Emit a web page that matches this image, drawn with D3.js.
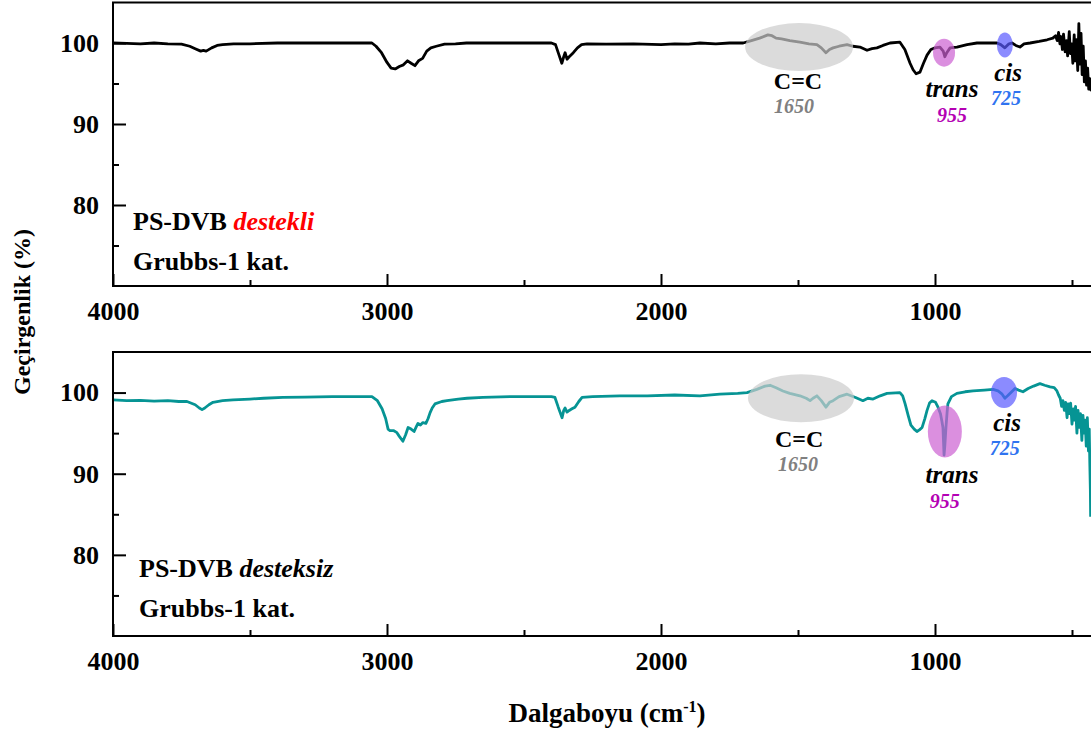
<!DOCTYPE html>
<html>
<head>
<meta charset="utf-8">
<script src="https://cdn.jsdelivr.net/npm/d3@7"></script>
<style>
  body { margin: 0; background: #fff; }
  text { font-family: "Liberation Serif", "Times New Roman", serif; font-weight: bold; }
</style>
</head>
<body>
<div class="chart"></div>
<script>
// FTIR spectra, wavenumber (cm-1) / transmittance (%)
var supportedWn = [4000, 3950, 3900, 3850, 3800, 3750, 3720, 3700, 3680, 3670, 3660, 3640, 3620, 3600, 3560, 3500, 3400, 3300, 3200, 3100,
  3055, 3040, 3020, 3000, 2985, 2970, 2955, 2940, 2925, 2912, 2898, 2885, 2870, 2855, 2840, 2820, 2790, 2750, 2710, 2600,
  2500, 2400, 2385, 2372, 2362, 2355, 2350, 2343, 2335, 2320, 2305, 2290, 2270, 2200, 2100, 2000, 1950, 1900, 1858, 1800,
  1750, 1700, 1670, 1640, 1610, 1595, 1580, 1560, 1530, 1493, 1460, 1431, 1415, 1398, 1385, 1372, 1350, 1321, 1300, 1274,
  1248, 1230, 1212, 1190, 1164, 1128, 1110, 1091, 1080, 1069, 1055, 1042, 1029, 1015, 1000, 982, 970, 964, 957, 945,
  920, 883, 847, 800, 774, 760, 745, 730, 719, 705, 690, 675, 653, 620, 591, 570,
  560, 554, 549, 544, 540, 535, 531, 525, 520, 516, 510, 506, 501, 497, 492, 488, 484, 479, 475, 471,
  467, 463, 459, 455, 451, 447, 443, 439, 435, 431, 427];
var supportedT = [100.0, 99.95, 99.9, 100.0, 99.9, 99.85, 99.6, 99.3, 99.0, 99.1, 99.0, 99.4, 99.7, 99.8, 99.9, 99.9, 100.0, 100.0, 100.0, 100.0,
  100.0, 99.6, 98.8, 97.6, 96.9, 96.8, 97.1, 97.3, 97.8, 97.5, 97.2, 97.8, 98.1, 99.0, 99.4, 99.6, 99.85, 99.9, 100.0, 100.0,
  100.0, 100.0, 99.8, 98.5, 97.5, 98.3, 98.8, 98.0, 98.3, 98.8, 99.4, 99.8, 99.9, 99.85, 99.9, 99.8, 99.9, 99.85, 100.0, 99.9,
  100.0, 100.0, 100.3, 100.6, 101.0, 100.9, 100.6, 100.5, 100.3, 100.1, 99.9, 99.8, 99.4, 98.8, 99.2, 99.4, 99.6, 99.8, 99.6, 99.5,
  99.1, 99.3, 99.4, 99.7, 100.0, 100.1, 99.2, 97.5, 96.7, 96.2, 96.4, 97.5, 98.5, 99.2, 99.4, 99.5, 99.0, 98.3, 98.8, 99.4,
  99.5, 99.8, 100.0, 100.0, 100.0, 99.8, 99.4, 99.9, 100.0, 99.7, 99.5, 99.9, 100.0, 100.2, 100.4, 100.6,
  100.9, 100.3, 101.3, 99.9, 100.8, 99.2, 101.1, 98.9, 100.3, 98.4, 101.4, 98.7, 99.9, 97.5, 101.0, 97.8, 100.4, 96.6, 102.4, 97.4,
  101.2, 96.1, 99.6, 95.2, 97.8, 94.8, 96.9, 94.3, 95.6, 94.2, 95.0];

var unsupportedWn = [4000, 3950, 3900, 3850, 3800, 3760, 3730, 3700, 3685, 3675, 3665, 3650, 3635, 3600, 3562, 3500, 3450, 3380, 3300, 3200,
  3100, 3055, 3035, 3018, 3005, 2996, 2989, 2975, 2965, 2955, 2942, 2932, 2923, 2912, 2901, 2893, 2887, 2878, 2869, 2858,
  2850, 2843, 2835, 2825, 2800, 2781, 2740, 2708, 2650, 2550, 2400, 2387, 2375, 2361, 2355, 2350, 2343, 2335, 2325, 2314,
  2300, 2288, 2250, 2150, 2050, 1950, 1858, 1785, 1720, 1686, 1650, 1620, 1602, 1580, 1555, 1530, 1493, 1470, 1456, 1445,
  1431, 1415, 1398, 1385, 1372, 1350, 1321, 1290, 1263, 1245, 1226, 1200, 1175, 1128, 1118, 1109, 1098, 1088, 1076, 1066,
  1057, 1047, 1037, 1029, 1020, 1011, 998, 989, 980, 975, 971, 969, 967, 964, 960, 956, 953, 940, 920, 890,
  861, 820, 788, 770, 755, 745, 735, 720, 708, 695, 679, 660, 640, 617, 600, 580, 565,
  555, 549, 543, 538, 533, 528, 523, 518, 514, 509, 505, 500, 495, 491, 487, 482, 478, 473, 469, 464,
  460, 456, 452, 448, 444, 440, 437, 435, 433, 432];
var unsupportedT = [99.1, 99.0, 99.05, 98.95, 99.0, 98.9, 98.9, 98.5, 98.1, 97.9, 98.1, 98.5, 98.8, 99.0, 99.1, 99.2, 99.3, 99.4, 99.45, 99.5,
  99.5, 99.5, 99.0, 98.0, 96.8, 95.5, 95.3, 95.3, 95.1, 94.6, 94.0, 94.8, 95.7, 95.5, 95.2, 95.8, 96.2, 96.0, 96.3, 96.2,
  96.8, 97.5, 98.1, 98.6, 98.9, 99.0, 99.2, 99.3, 99.4, 99.5, 99.5, 99.4, 98.2, 96.9, 97.8, 98.1, 97.6, 97.8, 98.0, 98.2,
  98.9, 99.4, 99.5, 99.6, 99.6, 99.7, 99.6, 99.8, 99.9, 100.0, 100.4, 100.8, 100.9, 100.6, 100.2, 99.9, 99.6, 99.3, 99.0, 99.3,
  99.6, 99.0, 98.2, 98.8, 99.0, 99.5, 99.8, 99.4, 99.0, 99.3, 99.2, 99.6, 99.9, 100.0, 99.6, 98.6, 97.2, 96.0, 95.5, 95.2,
  95.4, 95.7, 96.8, 97.8, 98.7, 99.0, 98.8, 98.2, 97.4, 96.5, 95.7, 94.0, 92.3, 93.5, 95.7, 97.5, 98.6, 99.5, 99.9, 100.1,
  100.2, 100.3, 100.4, 100.2, 99.8, 99.3, 99.6, 100.1, 100.5, 100.3, 100.1, 100.5, 100.8, 101.1, 100.9, 100.7, 100.6,
  100.2, 99.7, 99.3, 98.3, 99.0, 97.8, 98.8, 96.9, 98.6, 97.4, 98.7, 96.1, 98.0, 96.6, 98.3, 95.0, 97.8, 95.7, 97.4, 94.1,
  97.2, 95.0, 96.6, 93.4, 96.9, 92.8, 95.5, 91.3, 88.0, 84.7];

var xMajorTicks = [4000, 3000, 2000, 1000];
var xMinorTicks = [3500, 2500, 1500, 500];
var yMajorTicks = [80, 90, 100];
var yMinorTicks = [75, 85, 95];

var svgWidth = 1091;
var svgHeight = 735;
var left = 113;
var pxPerUnit = 0.274;

var svg = d3.select(".chart")
    .append("svg")
    .attr("width", svgWidth)
    .attr("height", svgHeight);

var x = d3.scaleLinear()
    .domain([4000, 400])
    .range([left, left + 3600 * pxPerUnit]);

var panels = [
  {
    top: 2.5, bottom: 286, wn: supportedWn, t: supportedT, color: "#000000",
    title: "PS-DVB ", tag: "destekli", tagColor: "#ff0000", textX: 133, textY: [230, 270],
    ellipses: [
      { wn: 1496, t: 99.5, rx: 54, ry: 24, fill: "#cccccc", op: 0.7 },
      { wn: 967, t: 98.8, rx: 11, ry: 14, fill: "#cc5fd2", op: 0.7 },
      { wn: 745, t: 99.75, rx: 8, ry: 12.5, fill: "#5a5aff", op: 0.7 }
    ],
    labels: [
      { text: "C=C", wn: 1500, t: 94.35, size: 24, italic: false, color: "#000" },
      { text: "1650", wn: 1515, t: 91.3, size: 20, italic: true, color: "#808080" },
      { text: "trans", wn: 938, t: 93.3, size: 25, italic: true, color: "#000" },
      { text: "955", wn: 938, t: 90.25, size: 20, italic: true, color: "#b400b4" },
      { text: "cis", wn: 733, t: 95.35, size: 25, italic: true, color: "#000" },
      { text: "725", wn: 741, t: 92.35, size: 20, italic: true, color: "#2f73f0" }
    ]
  },
  {
    top: 352, bottom: 636, wn: unsupportedWn, t: unsupportedT, color: "#069494",
    title: "PS-DVB ", tag: "desteksiz", tagColor: "#000000", textX: 139, textY: [577, 617],
    ellipses: [
      { wn: 1489, t: 99.3, rx: 53, ry: 24, fill: "#cccccc", op: 0.7 },
      { wn: 964, t: 95.2, rx: 17, ry: 26, fill: "#cc5fd2", op: 0.7 },
      { wn: 748, t: 100, rx: 13, ry: 15.5, fill: "#5a5aff", op: 0.7 }
    ],
    labels: [
      { text: "C=C", wn: 1496, t: 93.35, size: 24, italic: false, color: "#000" },
      { text: "1650", wn: 1500, t: 90.35, size: 20, italic: true, color: "#808080" },
      { text: "trans", wn: 938, t: 88.8, size: 25, italic: true, color: "#000" },
      { text: "955", wn: 964, t: 85.8, size: 20, italic: true, color: "#b400b4" },
      { text: "cis", wn: 737, t: 95.25, size: 25, italic: true, color: "#000" },
      { text: "725", wn: 745, t: 92.25, size: 20, italic: true, color: "#2f73f0" }
    ]
  }
];

panels.forEach(function(p) {
  var y = d3.scaleLinear().domain([70, 105]).range([p.bottom, p.top]);
  var g = svg.append("g");

  var data = p.wn.map(function(w, i) { return [w, p.t[i]]; });

  var line = d3.line()
      .x(function(d) { return x(d[0]); })
      .y(function(d) { return y(d[1]); });

  g.append("path")
      .datum(data)
      .attr("d", line)
      .attr("fill", "none")
      .attr("stroke", p.color)
      .attr("stroke-width", 2.8)
      .attr("stroke-linejoin", "round");

  // highlight ellipses sit on top of the spectrum
  g.selectAll("ellipse")
      .data(p.ellipses)
      .enter()
      .append("ellipse")
      .attr("cx", function(d) { return x(d.wn); })
      .attr("cy", function(d) { return y(d.t); })
      .attr("rx", function(d) { return d.rx; })
      .attr("ry", function(d) { return d.ry; })
      .style("fill", function(d) { return d.fill; })
      .style("opacity", function(d) { return d.op; });

  g.selectAll(".ann")
      .data(p.labels)
      .enter()
      .append("text")
      .attr("class", "ann")
      .attr("x", function(d) { return x(d.wn); })
      .attr("y", function(d) { return y(d.t); })
      .attr("text-anchor", "middle")
      .style("font-size", function(d) { return d.size + "px"; })
      .style("font-style", function(d) { return d.italic ? "italic" : "normal"; })
      .style("fill", function(d) { return d.color; })
      .text(function(d) { return d.text; });

  // axes, ticks pointing inward
  var xAxis = d3.axisBottom(x).tickValues(xMajorTicks).tickFormat(d3.format("d"))
      .tickSizeInner(-12).tickSizeOuter(0).tickPadding(16);
  var xMinor = d3.axisBottom(x).tickValues(xMinorTicks).tickSizeInner(-6).tickSizeOuter(0).tickFormat("");
  var yAxis = d3.axisLeft(y).tickValues(yMajorTicks).tickFormat(d3.format("d"))
      .tickSizeInner(-13).tickSizeOuter(0).tickPadding(14);
  var yMinor = d3.axisLeft(y).tickValues(yMinorTicks).tickSizeInner(-6).tickSizeOuter(0).tickFormat("");

  [[xAxis, "translate(0," + p.bottom + ")"], [xMinor, "translate(0," + p.bottom + ")"],
   [yAxis, "translate(" + left + ",0)"], [yMinor, "translate(" + left + ",0)"]].forEach(function(a) {
    var ag = g.append("g").attr("transform", a[1]).call(a[0]);
    ag.select(".domain").remove();
    ag.selectAll("line").attr("stroke", "#000").attr("stroke-width", 2);
    ag.selectAll("text").style("font-size", "26px").style("font-family", "Liberation Serif").style("font-weight", "bold").attr("fill", "#000");
  });

  g.append("rect")
      .attr("x", left)
      .attr("y", p.top)
      .attr("width", x(400) - left)
      .attr("height", p.bottom - p.top)
      .attr("fill", "none")
      .attr("stroke", "#000")
      .attr("stroke-width", 2);

  var t1 = g.append("text")
      .attr("x", p.textX)
      .attr("y", p.textY[0])
      .style("font-size", "26px");
  t1.append("tspan").text(p.title);
  t1.append("tspan").style("font-style", "italic").style("fill", p.tagColor).text(p.tag);

  g.append("text")
      .attr("x", p.textX)
      .attr("y", p.textY[1])
      .style("font-size", "26px")
      .text("Grubbs-1 kat.");
});

svg.append("text")
    .attr("transform", "translate(30,312) rotate(-90)")
    .attr("text-anchor", "middle")
    .style("font-size", "24px")
    .text("Geçirgenlik (%)");

var xTitle = svg.append("text")
    .attr("x", 607)
    .attr("y", 722)
    .attr("text-anchor", "middle")
    .style("font-size", "27px");
xTitle.append("tspan").text("Dalgaboyu (cm");
xTitle.append("tspan").attr("dy", -10).style("font-size", "16px").text("-1");
xTitle.append("tspan").attr("dy", 10).text(")");
</script>
</body>
</html>
